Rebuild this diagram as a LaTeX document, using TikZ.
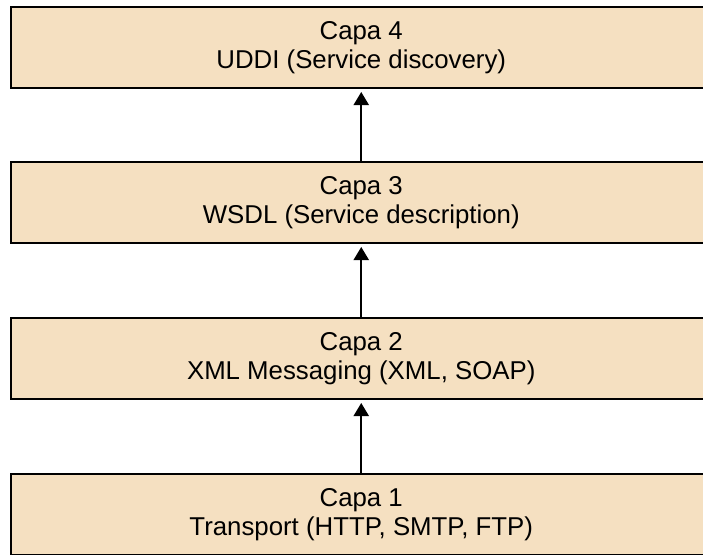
\documentclass[tikz,border=0pt]{standalone}
\usepackage{fontspec}
\setmainfont{Liberation Sans}
\usetikzlibrary{arrows.meta}
\definecolor{layerfill}{RGB}{245,224,193}
\tikzset{
  layer/.style={draw=black, line width=2pt, fill=layerfill, minimum width=701.5pt,
    minimum height=81pt, inner sep=0pt, align=center,
    font=\fontsize{25.8pt}{29pt}\selectfont},
  uparrow/.style={draw=black, line width=2pt, -{Triangle[length=13pt,width=15pt]}, shorten >=3pt}
}
\begin{document}
\begin{tikzpicture}[x=1pt,y=1pt]
\useasboundingbox (0,0) rectangle (703,-554);
\clip (0,0) rectangle (703,-554);
\node[layer] (b4) at (361.25,-47.5) {Capa 4\\UDDI (Service discovery)};
\node[layer] (b3) at (361.25,-202.5) {Capa 3\\WSDL (Service description)};
\node[layer] (b2) at (361.25,-358.5) {Capa 2\\XML Messaging (XML, SOAP)};
\node[layer] (b1) at (361.25,-514.5) {Capa 1\\Transport (HTTP, SMTP, FTP)};
\draw[uparrow] (b1.north) -- (b2.south);
\draw[uparrow] (b2.north) -- (b3.south);
\draw[uparrow] (b3.north) -- (b4.south);
\end{tikzpicture}
\end{document}
